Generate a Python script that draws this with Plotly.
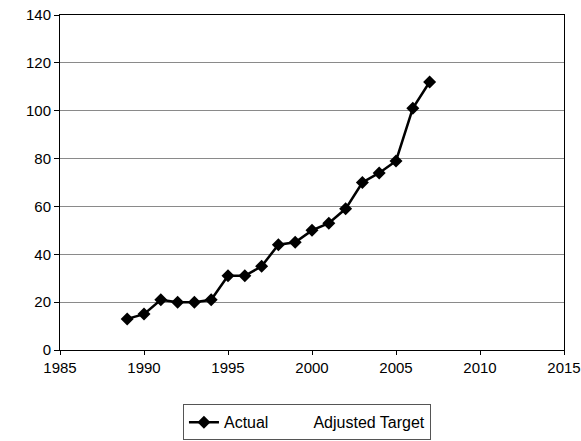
import plotly.graph_objects as go

# Actual values
years = [1989, 1990, 1991, 1992, 1993, 1994, 1995, 1996, 1997, 1998,
         1999, 2000, 2001, 2002, 2003, 2004, 2005, 2006, 2007]
actual = [13, 15, 21, 20, 20, 21, 31, 31, 35, 44,
          45, 50, 53, 59, 70, 74, 79, 101, 112]

# Adjusted target series has no visible points in the picture
target_years = [None]
adjusted_target = [None]

x_ticks = [1985, 1990, 1995, 2000, 2005, 2010, 2015]
y_ticks = [0, 20, 40, 60, 80, 100, 120, 140]

fig = go.Figure()

fig.add_trace(go.Scatter(
    x=years, y=actual, name="Actual",
    mode="lines+markers",
    line=dict(color="black", width=2.5),
    marker=dict(symbol="diamond", size=10, color="black"),
    showlegend=True,
))

fig.add_trace(go.Scatter(
    x=target_years, y=adjusted_target, name="Adjusted Target",
    mode="lines",
    line=dict(color="white", width=2),
    showlegend=True,
))

fig.update_layout(
    width=581, height=441,
    margin=dict(l=60, r=17, t=15, b=91, autoexpand=False),
    paper_bgcolor="white", plot_bgcolor="white",
    font=dict(family="Liberation Sans, Arial, sans-serif", size=15, color="black"),
    showlegend=True,
    legend=dict(
        orientation="h", x=0.49, xanchor="center", y=-0.162, yanchor="top",
        bordercolor="#555", borderwidth=1, font=dict(size=16),
    ),
)

fig.update_xaxes(
    range=[1985, 2015], tickvals=x_ticks, automargin=False,
    showline=True, linecolor="black", linewidth=1, mirror=True,
    ticks="outside", ticklen=4, tickcolor="black",
    showgrid=False, zeroline=False,
)

fig.update_yaxes(
    range=[0, 140], tickvals=y_ticks, automargin=False,
    showline=True, linecolor="black", linewidth=1, mirror=True,
    ticks="outside", ticklen=5, tickcolor="black",
    showgrid=True, gridcolor="#8a8a8a", gridwidth=1,
    zeroline=False,
)

# drop the default page margin so the figure fills the window
fig.write_html("out.html", config={"displayModeBar": False},
               post_script="document.body.style.margin = '0';")
